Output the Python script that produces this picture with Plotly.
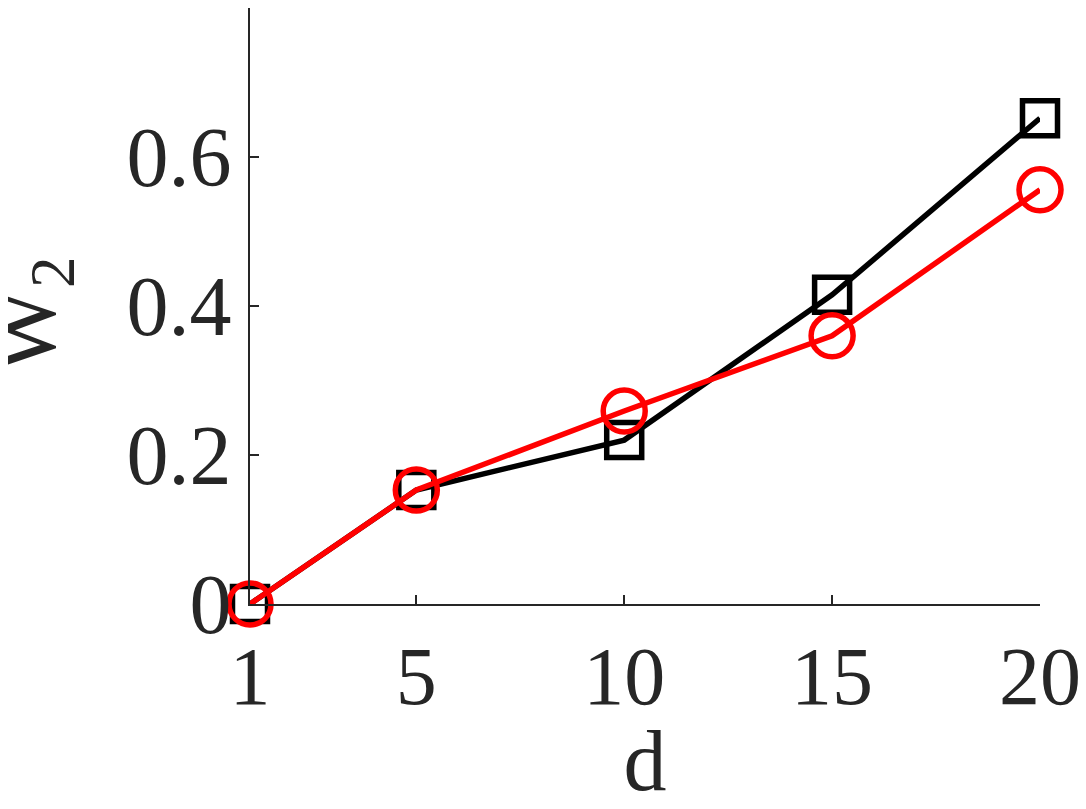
import plotly.graph_objects as go

# Data
d_values = [1, 5, 10, 15, 20]
w2_black = [0.0, 0.153, 0.220, 0.415, 0.652]
w2_red = [0.0, 0.153, 0.259, 0.360, 0.556]
x_ticks = [1, 5, 10, 15, 20]
y_ticks = [0, 0.2, 0.4, 0.6]
y_tick_text = ["0", "0.2", "0.4", "0.6"]

axis_color = "#262626"
font_family = "Liberation Serif"

black_trace = go.Scatter(
    x=d_values,
    y=w2_black,
    mode="lines+markers",
    line=dict(color="black", width=5.5),
    marker=dict(symbol="square-open", size=35, color="black", line=dict(width=5.5)),
    cliponaxis=False,
    showlegend=False,
)

red_trace = go.Scatter(
    x=d_values,
    y=w2_red,
    mode="lines+markers",
    line=dict(color="#ff0000", width=5.5),
    marker=dict(symbol="circle-open", size=42, color="#ff0000", line=dict(width=5.5)),
    cliponaxis=False,
    showlegend=False,
)

fig = go.Figure(data=[black_trace, red_trace])

# page body has an 8px margin, so the figure is sized to fit the window
fig.update_layout(
    width=1078,
    height=801,
    margin=dict(l=242, r=46, t=0, b=205),
    plot_bgcolor="white",
    paper_bgcolor="white",
    font=dict(family=font_family, color=axis_color, size=84),
    xaxis=dict(
        range=[1, 20],
        tickvals=x_ticks,
        ticks="inside",
        ticklen=9,
        tickwidth=1.5,
        tickcolor=axis_color,
        showline=True,
        linecolor=axis_color,
        linewidth=1.5,
        showgrid=False,
        zeroline=False,
        automargin=False,
        tickfont=dict(size=82),
        title=dict(text="d", font=dict(size=86)),
    ),
    yaxis=dict(
        range=[0, 0.8],
        tickvals=y_ticks,
        ticktext=y_tick_text,
        ticks="inside",
        ticklen=9,
        tickwidth=1.5,
        tickcolor=axis_color,
        showline=True,
        linecolor=axis_color,
        linewidth=1.5,
        showgrid=False,
        zeroline=False,
        automargin=False,
        tickfont=dict(size=84),
    ),
)

# y-axis title as an annotation so it can sit further left
fig.add_annotation(
    text="W<sub>2</sub>",
    textangle=-90,
    xref="paper",
    yref="paper",
    x=-0.276,
    y=0.485,
    xanchor="center",
    yanchor="middle",
    showarrow=False,
    font=dict(family=font_family, color=axis_color, size=90),
)

fig.write_html("out.html")
